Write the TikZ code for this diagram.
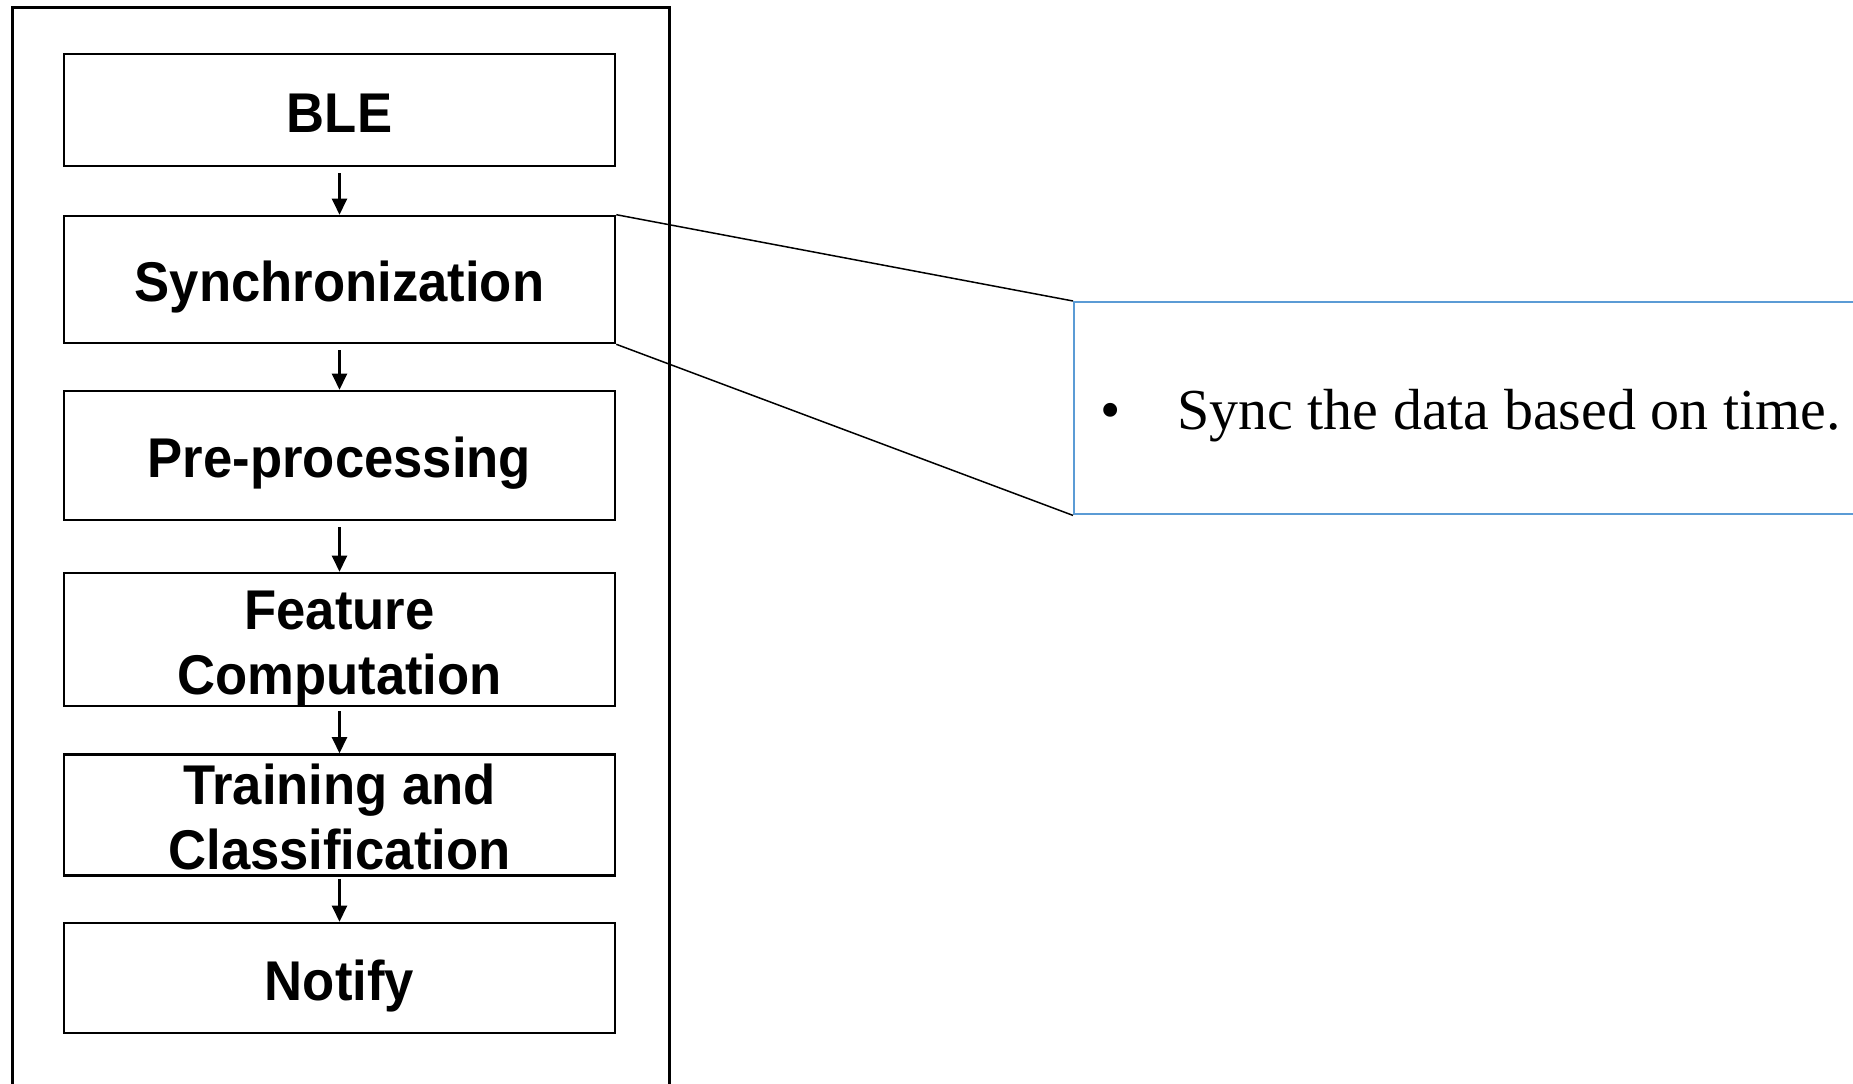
\documentclass[tikz,border=0pt]{standalone}
\usepackage{fontspec}
\setmainfont{Liberation Serif}
\newfontfamily\stagefont{Liberation Sans}[FakeStretch=0.94]
\usetikzlibrary{arrows.meta}
\definecolor{noteblue}{RGB}{91,155,213}
\begin{document}
\begin{tikzpicture}[x=1pt,y=-1pt,
  stage/.style={draw=black, line width=2.6pt, minimum width=551pt, inner sep=0pt,
    align=center, text height=50pt, text depth=6pt,
    font=\stagefont\bfseries\fontsize{56}{65}\selectfont},
  twoline/.style={text height=115pt},
  flow/.style={-{Triangle[width=15pt,length=16pt]}, line width=2.4pt},
  callout/.style={line width=1.5pt},
  notetext/.style={anchor=base, inner sep=0pt, font=\fontsize{58}{70}\selectfont}]
\useasboundingbox (0,0) rectangle (1853,1084);
\clip (0,0) rectangle (1853,1084);

% outer frame around the pipeline (runs off the bottom edge)
\node[draw, line width=2.6pt, minimum width=657pt, minimum height=1140pt,
      inner sep=0pt, anchor=north west] (frame) at (11,6) {};

% pipeline stages
\node[stage, minimum height=112pt] (ble)   at (339.5,110)   {BLE};
\node[stage, minimum height=127pt] (sync)  at (339.5,279.5) {Synchronization};
\node[stage, minimum height=129pt] (pre)   at (339.5,455.5) {Pre-processing};
\node[stage, twoline, minimum height=133pt] (feat)  at (339.5,639.5) {Feature\\Computation};
\node[stage, twoline, minimum height=120pt] (train) at (339.5,815)   {Training and\\Classification};
\node[stage, minimum height=110pt] (notify) at (339.5,978)  {Notify};

% flow arrows
\draw[flow] ([yshift=-6pt]ble.south)   -- (sync.north);
\draw[flow] ([yshift=-6pt]sync.south)  -- (pre.north);
\draw[flow] ([yshift=-6pt]pre.south)   -- (feat.north);
\draw[flow] ([yshift=-4pt]feat.south)  -- (train.north);
\draw[flow] ([yshift=-2pt]train.south) -- (notify.north);

% detail box for the synchronization step (runs off the right edge)
\node[draw=noteblue, line width=2.4pt, minimum width=850pt, minimum height=212pt,
      inner sep=0pt, anchor=north west] (note) at (1073,301) {};
\node[notetext] (dot) at (1111,429) {•};
\node[notetext, anchor=base west] (txt) at (1177,429) {Sync the data based on time.};

% callout lines
\draw[callout] (sync.north east) -- (note.north west);
\draw[callout] (sync.south east) -- (note.south west);
\end{tikzpicture}
\end{document}
